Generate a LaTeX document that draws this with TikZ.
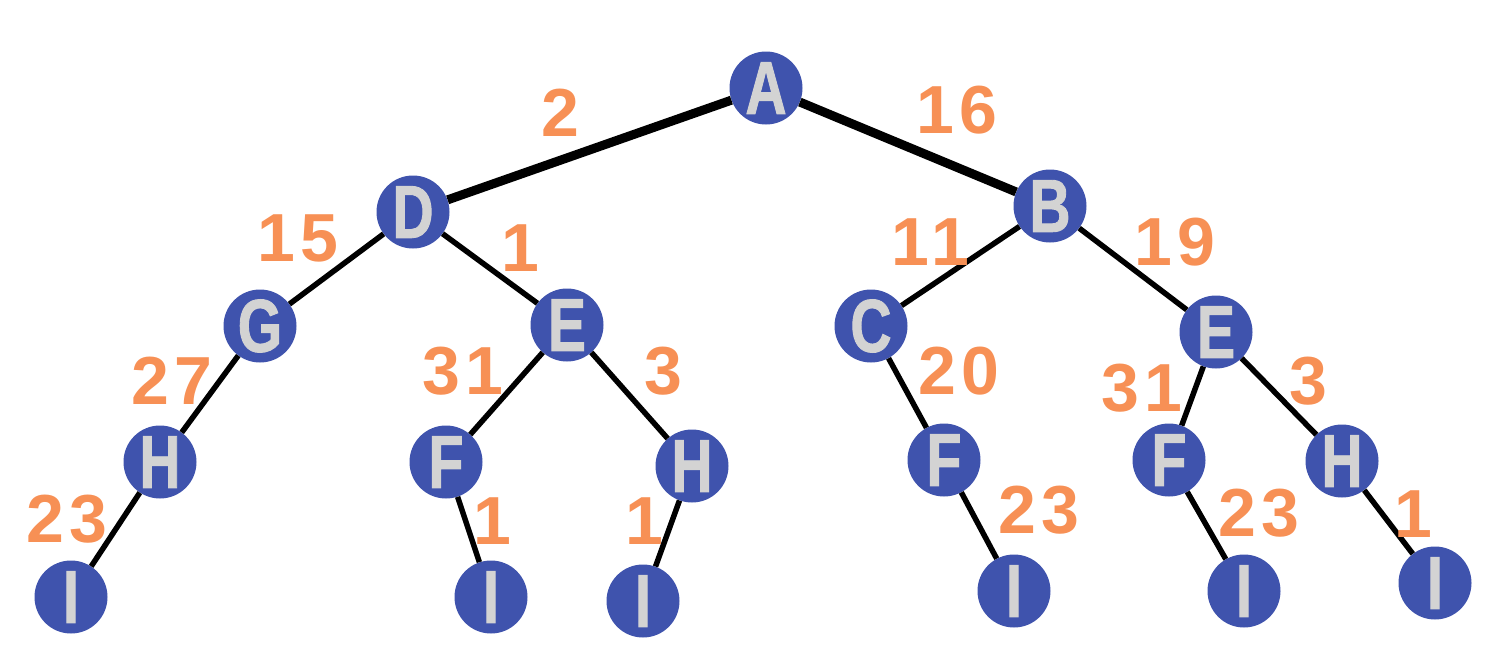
\documentclass[tikz,border=0pt]{standalone}
\usepackage{fontspec}
\newfontfamily\letterfont[FakeStretch=0.76, FakeBold=1.2]{Liberation Sans}
\newfontfamily\numfont[LetterSpace=9]{Liberation Sans}
\definecolor{nodeblue}{HTML}{3F53AD}
\definecolor{lettergray}{HTML}{D3D3D3}
\definecolor{wtorange}{HTML}{F79055}
\tikzset{
  vtx/.style={circle, fill=nodeblue, text=lettergray, minimum size=73pt, inner sep=0pt,
    font=\letterfont\bfseries\fontsize{75}{75}\selectfont},
  wt/.style={wtorange, inner sep=0pt, font=\numfont\bfseries\fontsize{68}{68}\selectfont},
  heavy/.style={line width=9pt},
  light/.style={line width=5.5pt}
}
\begin{document}
\begin{tikzpicture}[x=1pt, y=-1pt]
\useasboundingbox (0,0) rectangle (1500,665);
\node[vtx] (A)  at (766,88)   {A};
\node[vtx] (D)  at (413,212)  {D};
\node[vtx] (B)  at (1050,206) {B};
\node[vtx] (G)  at (260,326)  {G};
\node[vtx] (E1) at (567,325)  {E};
\node[vtx] (C)  at (871,326)  {C};
\node[vtx] (E2) at (1216,332) {E};
\node[vtx] (H1) at (160,462)  {H};
\node[vtx] (F1) at (446,462)  {F};
\node[vtx] (H2) at (692,466)  {H};
\node[vtx] (F2) at (944,460)  {F};
\node[vtx] (F3) at (1169,460) {F};
\node[vtx] (H3) at (1342,461) {H};
\node[vtx] (I1) at (71,597)   {I};
\node[vtx] (I2) at (491,597)  {I};
\node[vtx] (I3) at (643,601)  {I};
\node[vtx] (I4) at (1014,591) {I};
\node[vtx] (I5) at (1244,591) {I};
\node[vtx] (I6) at (1435,583) {I};

\draw[heavy] (A) -- (D);
\draw[heavy] (A) -- (B);
\draw[light] (D) -- (G);
\draw[light] (D) -- (E1);
\draw[light] (G) -- (H1);
\draw[light] (H1) -- (I1);
\draw[light] (E1) -- (F1);
\draw[light] (E1) -- (H2);
\draw[light] (F1) -- (I2);
\draw[light] (H2) -- (I3);
\draw[light] (B) -- (C);
\draw[light] (B) -- (E2);
\draw[light] (C) -- (F2);
\draw[light] (F2) -- (I4);
\draw[light] (E2) -- (F3);
\draw[light] (E2) -- (H3);
\draw[light] (F3) -- (I5);
\draw[light] (H3) -- (I6);

\node[wt] (wAD)   at (560,113)  {2};
\node[wt] (wAB)   at (957,110)  {16};
\node[wt] (wDG)   at (298,238)  {15};
\node[wt] (wDE)   at (520,248)  {1};
\node[wt] (wBC)   at (930,242)  {11};
\node[wt] (wBE)   at (1175,242) {19};
\node[wt] (wGH)   at (172,381)  {27};
\node[wt] (wEF)   at (463,371)  {31};
\node[wt] (wEH)   at (663,371)  {3};
\node[wt] (wCF)   at (959,371)  {20};
\node[wt] (wEF2)  at (1142,388) {31};
\node[wt] (wEH2)  at (1308,381) {3};
\node[wt] (wHI)   at (67,519)   {23};
\node[wt] (wFI)   at (492,521)  {1};
\node[wt] (wHI2)  at (644,521)  {1};
\node[wt] (wFI2)  at (1039,510) {23};
\node[wt] (wFI3)  at (1259,513) {23};
\node[wt] (wHI3)  at (1413,514) {1};
\end{tikzpicture}
\end{document}
